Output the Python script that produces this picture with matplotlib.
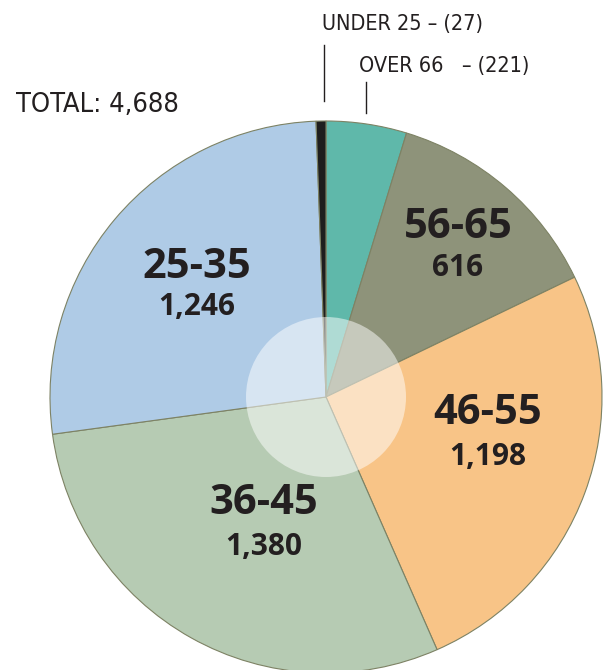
import matplotlib.pyplot as plt
from matplotlib.patches import Circle

# slice data, clockwise from 12 o'clock
groups = ["OVER 66", "56-65", "46-55", "36-45", "25-35", "UNDER 25"]
counts = [221, 616, 1198, 1380, 1246, 27]
colors = ["#5fb8aa", "#8e937a", "#f8c487", "#b6cbb3", "#afcbe6", "#1e1e1e"]
total = sum(counts)

W, H = 603, 670
fig = plt.figure(figsize=(W / 100, H / 100), dpi=100)
ax = fig.add_axes([0, 0, 1, 1])

cx, cy, r = 326, H - 397, 276

ax.pie(counts, colors=colors, startangle=90, counterclock=False,
       center=(cx, cy), radius=r, frame=True,
       wedgeprops=dict(edgecolor="#7d8264", linewidth=0.8))
ax.set_xlim(0, W)
ax.set_ylim(0, H)
ax.set_aspect("equal")
ax.axis("off")

# soft white disc in the middle
ax.add_patch(Circle((cx, cy), 80, facecolor="white", alpha=0.5, edgecolor="none", zorder=5))

bold = ["Open Sans", "DejaVu Sans"]
narrow = dict(family="DejaVu Sans", fontstretch="condensed")

# big labels inside the slices (pixel positions)
big = {
    "56-65": (458, 228, 268),
    "46-55": (488, 414, 457),
    "36-45": (264, 504, 547),
    "25-35": (197, 268, 307),
}
for g, (x, y1, y2) in big.items():
    n = counts[groups.index(g)]
    ax.text(x, H - y1, g, ha="center", va="center", fontsize=30,
            fontweight="bold", family=bold, color="#231f20", zorder=6)
    ax.text(x, H - y2, f"{n:,}", ha="center", va="center", fontsize=21.5,
            fontweight="bold", family=bold, color="#231f20", zorder=6)

# small slices get labels above with leader lines
ax.text(322, H - 24, f"UNDER 25 \u2013 ({counts[5]})", ha="left", va="center",
        fontsize=15.5, color="#231f20", **narrow)
ax.plot([324, 324], [H - 45, H - 101], color="#231f20", lw=1)
ax.text(359, H - 66, f"OVER 66   \u2013 ({counts[0]})", ha="left", va="center",
        fontsize=15.5, color="#231f20", **narrow)
ax.plot([366, 366], [H - 82, H - 113], color="#231f20", lw=1)

ax.text(16, H - 105, f"TOTAL: {total:,}", ha="left", va="center",
        fontsize=19.5, color="#231f20", **narrow)

fig.savefig("out.png", dpi=100)
